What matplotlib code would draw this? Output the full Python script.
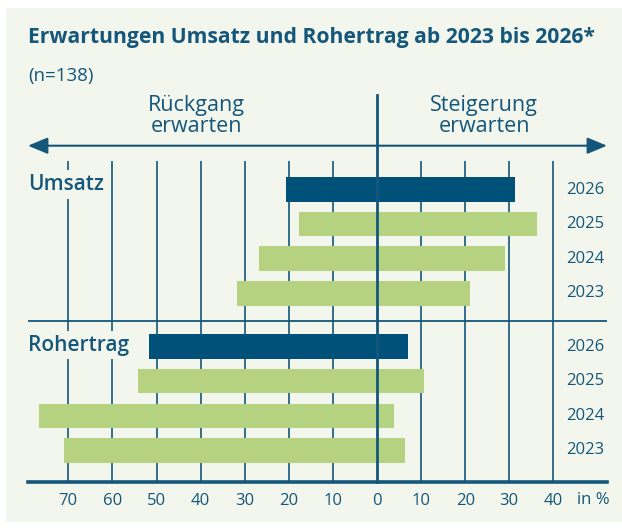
import matplotlib
matplotlib.use('Agg')
import matplotlib.pyplot as plt
from matplotlib.patches import Rectangle, FancyArrowPatch

# ---------------- data ----------------
years = ['2026', '2025', '2024', '2023']
groups = ['Umsatz', 'Rohertrag']
umsatz_rueckgang = [-20.7, -17.7, -26.8, -31.8]
umsatz_steigerung = [31.4, 36.2, 29.1, 21.2]
rohertrag_rueckgang = [-51.8, -54.3, -76.6, -70.9]
rohertrag_steigerung = [7.1, 10.7, 3.9, 6.4]
tick_values = [-70, -60, -50, -40, -30, -20, -10, 0, 10, 20, 30, 40]
tick_labels = ['70', '60', '50', '40', '30', '20', '10', '0', '10', '20', '30', '40']

# ---------------- style ----------------
W, H = 622, 531
BG = '#f3f6ed'
DARK = '#00517a'
GREEN = '#b5d281'
TXT = '#14577a'
FONT = 'Open Sans'
plt.rcParams['font.family'] = [FONT, 'DejaVu Sans']

fig = plt.figure(figsize=(W / 100, H / 100), dpi=100, facecolor='white')
fig.patches.append(Rectangle((6 / W, 1 - 522 / H), 616 / W, 514 / H,
                             transform=fig.transFigure, facecolor=BG,
                             edgecolor='none', zorder=-10))

def px(x, y):
    return x / W, 1 - y / H

ax_left, ax_right, ax_top, ax_bot = 28, 607, 160.7, 481.7
ax = fig.add_axes([ax_left / W, 1 - ax_bot / H, (ax_right - ax_left) / W, (ax_bot - ax_top) / H])
ax.set_facecolor('none')
x0 = 377.0
ppu = 4.41
ax.set_xlim((ax_left - x0) / ppu, (ax_right - x0) / ppu)
row = 34.6
yc0 = 189.5
def ydat(ypx):
    return (ypx - yc0) / row
ax.set_ylim(ydat(ax_bot), ydat(ax_top))

pos_u = [0, 1, 2, 3]
pos_r = [4.54, 5.54, 6.54, 7.54]
colors = [DARK, GREEN, GREEN, GREEN]
bh = 0.71

ax.barh(pos_u, umsatz_rueckgang, height=bh, color=colors, zorder=3)
ax.barh(pos_u, umsatz_steigerung, height=bh, color=colors, zorder=3)
ax.barh(pos_r, rohertrag_rueckgang, height=bh, color=colors, zorder=3)
ax.barh(pos_r, rohertrag_steigerung, height=bh, color=colors, zorder=3)

# grid
for v in tick_values:
    if v != 0:
        ax.plot([v, v], [ydat(ax_top), ydat(ax_bot)], color=TXT, lw=1.2, zorder=1)
ax.plot([0, 0], [ydat(95), ydat(ax_bot)], color=TXT, lw=2.0, zorder=4, clip_on=False)
ax.plot(ax.get_xlim(), [ydat(321), ydat(321)], color=TXT, lw=1.3, zorder=1)

for s in ['top', 'left', 'right']:
    ax.spines[s].set_visible(False)
ax.spines['bottom'].set_color(TXT)
ax.spines['bottom'].set_linewidth(2.6)
ax.set_yticks([])
ax.set_xticks(tick_values)
ax.set_xticklabels(tick_labels)
ax.tick_params(axis='x', length=0, pad=8, labelsize=12, labelcolor=TXT)

# arrow
xl = ax.get_xlim()
arr = FancyArrowPatch((xl[0], ydat(145.7)), (xl[1], ydat(145.7)),
                      arrowstyle='<|-|>,head_length=12,head_width=5',
                      mutation_scale=1, lw=1.5, color=TXT,
                      shrinkA=0, shrinkB=0, clip_on=False)
ax.add_patch(arr)

# group labels
for g, yb in zip(groups, [ydat(190), ydat(350.5)]):
    ax.text(xl[0], yb, g, ha='left', va='baseline', fontsize=15, color=TXT,
            fontweight='semibold', zorder=5,
            bbox=dict(facecolor=BG, edgecolor='none', pad=2.5))

# year labels
for yrs, pos in [(years, pos_u), (years, pos_r)]:
    for y, p in zip(yrs, pos):
        ax.text((585 - x0) / ppu, p, y, ha='center', va='center',
                fontsize=12, color=TXT, zorder=5)

# texts
fig.text(*px(28, 38), 'Erwartungen Umsatz und Rohertrag ab 2023 bis 2026*',
         ha='left', va='center', fontsize=15.2, fontweight='bold', color=TXT)
fig.text(*px(28, 76), '(n=138)', ha='left', va='center', fontsize=13.5, color=TXT)
fig.text(*px(196, 116.5), 'Rückgang\nerwarten', ha='center', va='center',
         fontsize=15.5, color=TXT, linespacing=1.0)
fig.text(*px(484, 116.5), 'Steigerung\nerwarten', ha='center', va='center',
         fontsize=15.5, color=TXT, linespacing=1.0)
fig.text(*px(593, 500), 'in %', ha='center', va='center', fontsize=12, color=TXT)

fig.savefig('out.png', dpi=100, facecolor='white')
